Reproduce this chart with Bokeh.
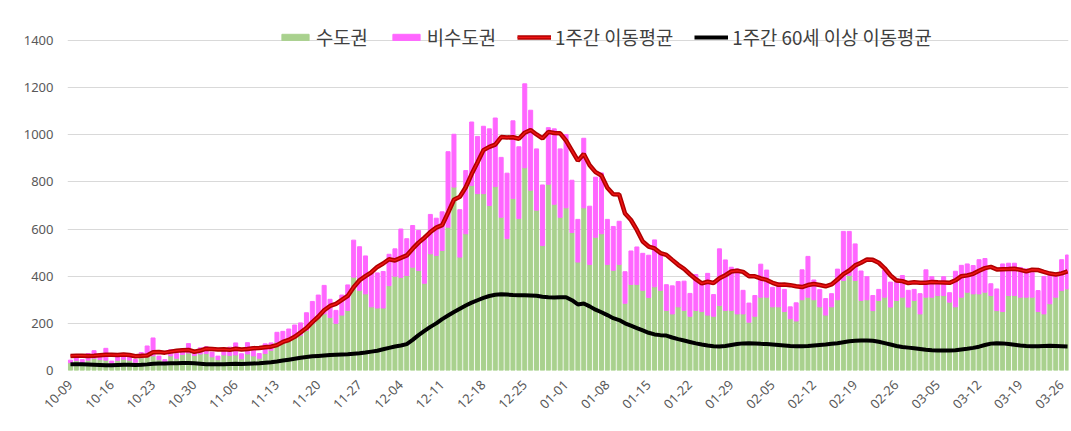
import math
import pandas as pd
from bokeh.plotting import figure
from bokeh.models import (ColumnDataSource, FixedTicker, Legend, LegendItem, Range1d)
from bokeh.embed import file_html
from bokeh.resources import INLINE

# ---- data ----
dates = [d.strftime("%m-%d") for d in pd.date_range("2020-10-09", "2021-03-27")]

capital = [  # 수도권
    33, 42, 34, 44, 52, 46, 44,
    28, 43, 48, 44, 35, 54, 58,
    62, 46, 34, 62, 52, 68, 74,
    64, 70, 72, 58, 46, 66, 64,
    66, 50, 70, 62, 52, 72, 86,
    120, 118, 128, 140, 150, 170, 200,
    226, 240, 225, 200, 235, 255, 396,
    340, 325, 270, 265, 265, 360, 400,
    395, 403, 438, 424, 370, 495, 488,
    509, 608, 778, 481, 580, 785, 750,
    750, 700, 780, 650, 560, 730, 645,
    860, 765, 680, 530, 790, 705, 650,
    690, 585, 460, 690, 450, 565, 580,
    450, 425, 450, 285, 365, 365, 340,
    310, 355, 340, 255, 240, 270, 255,
    230, 255, 250, 235, 230, 276, 255,
    255, 240, 240, 205, 230, 311, 311,
    270, 270, 250, 220, 210, 300, 311,
    300, 270, 235, 270, 300, 382, 403,
    382, 297, 300, 254, 297, 311, 269,
    297, 311, 269, 297, 240, 311, 311,
    318, 318, 290, 270, 311, 332, 325,
    325, 332, 318, 254, 250, 318, 318,
    311, 311, 311, 250, 240, 283, 311,
    339, 346,
]

non_capital = [  # 비수도권
    11, 21, 12, 28, 32, 20, 50,
    12, 14, 15, 14, 12, 22, 46,
    76, 15, 12, 26, 20, 24, 40,
    20, 26, 29, 20, 15, 28, 35,
    51, 21, 48, 38, 20, 41, 31,
    42, 48, 48, 53, 52, 75, 93,
    94, 121, 77, 55, 85, 108, 157,
    185, 161, 144, 149, 155, 133, 116,
    205, 156, 177, 170, 196, 167, 158,
    164, 320, 224, 201, 268, 269, 243,
    286, 325, 291, 254, 277, 329, 304,
    356, 339, 260, 257, 240, 320, 290,
    311, 222, 181, 295, 247, 255, 258,
    191, 186, 183, 134, 142, 159, 157,
    179, 199, 158, 109, 119, 107, 124,
    97, 152, 125, 177, 92, 240, 214,
    183, 191, 100, 81, 88, 140, 115,
    83, 102, 94, 50, 77, 127, 173,
    84, 73, 70, 56, 130, 208, 187,
    155, 125, 98, 64, 47, 115, 106,
    93, 92, 71, 47, 86, 116, 87,
    61, 80, 40, 151, 135, 120, 120,
    145, 143, 50, 92, 202, 137, 137,
    126, 120, 104, 89, 159, 120, 92,
    131, 144,
]

ma7 = [  # 1주간 이동평균
    62, 63, 63, 62, 63, 65, 67,
    66.4, 65.6, 68, 66, 60.7, 62.1, 63.6,
    77.6, 78.1, 75.7, 80, 83.6, 85.9, 87.3,
    79.6, 84.6, 92.4, 91, 89.4, 89.7, 87.6,
    92.3, 88.7, 91.1, 94.3, 95.9, 98.6, 101.1,
    107.6, 121.1, 129.4, 142.7, 161.3, 180.1, 205.3,
    227.9, 255.7, 273.7, 282.6, 299.4, 316.3, 353.4,
    382.7, 400.6, 416.6, 439.3, 453.6, 472.1, 466.9,
    477.6, 488, 516.7, 542.4, 563.3, 587.4, 606,
    616.4, 669.1, 724.4, 737, 777.3, 833.3, 882.9,
    934.7, 948.6, 958.4, 990.1, 988.6, 989.3, 983,
    1008.7, 1020, 1001.3, 984.6, 1012.1, 1007.3, 1006,
    975.3, 932.9, 890.1, 918.4, 870.9, 841.6, 827,
    775.6, 747.6, 746.4, 665.6, 638.4, 596.1, 547.4,
    525.7, 517.6, 498.3, 490.4, 469.3, 448.3, 431.4,
    408.3, 387.3, 369.7, 376.6, 371.3, 391.1, 404,
    419.9, 423.3, 418.3, 400.3, 399.7, 390.4, 384.3,
    372.1, 363.7, 364.3, 362, 357.6, 354.1, 362.4,
    366.9, 362.7, 357.1, 365.1, 385.6, 408.9, 424,
    445.9, 457.1, 470.4, 469.3, 457, 433.6, 402.9,
    381.9, 379.1, 370.9, 374.6, 372, 372.1, 375.4,
    373.9, 373.1, 371.7, 382.7, 399.9, 403.4, 410.1,
    423.1, 434.1, 439.6, 428.9, 429.7, 430.1, 431.6,
    426.9, 420.6, 427.3, 426.3, 418.7, 411.3, 407.3,
    412, 420.4,
]

ma7_60plus = [  # 1주간 60세 이상 이동평균
    27, 27, 26, 25, 24, 23, 22,
    22, 23, 24, 24, 23, 24, 26,
    29, 30, 30, 31, 31, 32, 32,
    31, 29, 27, 26, 26, 27, 28,
    29, 28, 29, 30, 31, 33, 35,
    38, 42, 46, 50, 54, 57, 60,
    62, 64, 66, 67, 68, 69, 71,
    73, 76, 80, 84, 90, 96, 102,
    106, 112, 130, 150, 168, 185, 200,
    218, 233, 248, 262, 276, 288, 298,
    308, 316, 321, 323, 322, 320, 319,
    319, 318, 317, 313, 311, 310, 311,
    311, 298, 280, 284, 272, 258, 247,
    235, 222, 214, 200, 190, 180, 170,
    160, 153, 150, 148, 140, 133, 127,
    121, 115, 110, 106, 103, 102, 104,
    108, 112, 115, 116, 115, 113, 112,
    110, 108, 106, 104, 103, 103, 104,
    106, 108, 110, 113, 116, 120, 124,
    126, 127, 127, 126, 122, 116, 110,
    104, 100, 97, 94, 91, 88, 86,
    85, 85, 85, 86, 89, 92, 96,
    101, 108, 114, 116, 115, 112, 109,
    106, 104, 103, 103, 104, 105, 104,
    103, 102,
]

tick_labels = ["10-09", "10-16", "10-23", "10-30", "11-06", "11-13", "11-20",
               "11-27", "12-04", "12-11", "12-18", "12-25", "01-01", "01-08",
               "01-15", "01-22", "01-29", "02-05", "02-12", "02-19", "02-26",
               "03-05", "03-12", "03-19", "03-26"]
y_ticks = [0, 200, 400, 600, 800, 1000, 1200, 1400]

# ---- build ----
x = list(range(len(dates)))
src = ColumnDataSource(dict(x=x, date=dates, capital=capital, non_capital=non_capital,
                            ma7=ma7, ma60=ma7_60plus))

p = figure(width=1071, height=431, output_backend="svg", toolbar_location=None,
           x_range=Range1d(-0.5, 169.16), y_range=Range1d(0, 1527),
           min_border_left=67, min_border_right=3, min_border_top=10, min_border_bottom=61)
p.outline_line_color = None
p.background_fill_color = "white"
p.border_fill_color = "white"

bars = p.vbar_stack(["capital", "non_capital"], x="x", width=0.68,
                    color=["#A9D18E", "#FF66FF"], source=src)
r_red_outer = p.line("x", "ma7", source=src, line_color="#B00000", line_width=4.5)
r_red_inner = p.line("x", "ma7", source=src, line_color="#F01515", line_width=1.4)
r_black = p.line("x", "ma60", source=src, line_color="black", line_width=4)

# axes
p.xgrid.grid_line_color = None
p.ygrid.grid_line_color = "#D9D9D9"
p.ygrid.grid_line_width = 1
p.yaxis.ticker = FixedTicker(ticks=y_ticks)
p.yaxis.axis_line_color = None
p.yaxis.major_tick_line_color = None
p.yaxis.minor_tick_line_color = None
p.yaxis.major_tick_out = 0
p.yaxis.major_tick_in = 0
p.yaxis.major_label_standoff = 14
p.yaxis.major_label_text_font = "Noto Sans"
p.yaxis.major_label_text_font_size = "13px"
p.yaxis.major_label_text_color = "#595959"

tick_pos = [i for i, d in enumerate(dates) if d in tick_labels]
p.xaxis.ticker = FixedTicker(ticks=tick_pos)
p.xaxis.major_label_overrides = {i: dates[i] for i in tick_pos}
p.xaxis.major_label_orientation = math.pi / 4
p.xaxis.axis_line_color = None
p.xaxis.major_tick_line_color = None
p.xaxis.minor_tick_line_color = None
p.xaxis.major_tick_out = 0
p.xaxis.major_tick_in = 0
p.xaxis.major_label_standoff = 12
p.xaxis.major_label_text_font = "Noto Sans"
p.xaxis.major_label_text_font_size = "13px"
p.xaxis.major_label_text_color = "#595959"

legend = Legend(items=[
    LegendItem(label="수도권", renderers=[bars[0]]),
    LegendItem(label="비수도권", renderers=[bars[1]]),
    LegendItem(label="1주간 이동평균", renderers=[r_red_outer, r_red_inner]),
    LegendItem(label="1주간 60세 이상 이동평균", renderers=[r_black]),
], orientation="horizontal", location=(211, 320))
legend.glyph_width = 34
legend.glyph_height = 8
legend.label_height = 20
legend.label_standoff = 4
legend.spacing = 21
legend.padding = 0
legend.margin = 0
legend.background_fill_alpha = 0
legend.border_line_alpha = 0
legend.label_text_font = "Noto Sans CJK KR"
legend.label_text_font_size = "18.8px"
legend.label_text_color = "#404040"
p.add_layout(legend)

open("out.html", "w").write(file_html(p, INLINE))
